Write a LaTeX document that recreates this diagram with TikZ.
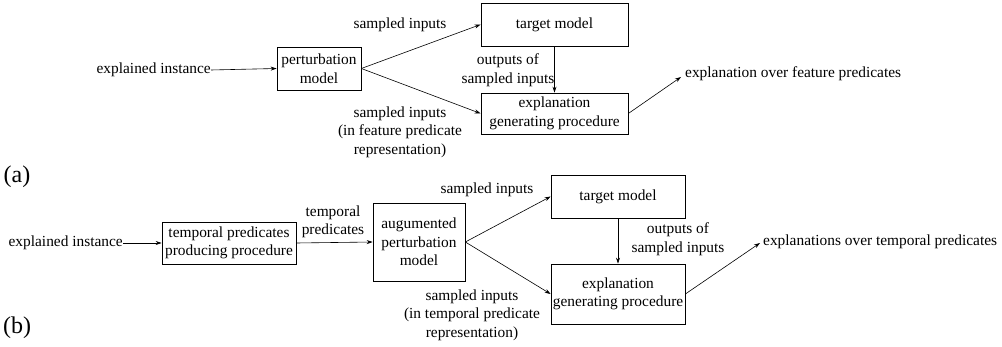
\documentclass[tikz,border=0pt]{standalone}
\usepackage{fontspec}
\setmainfont{Liberation Serif}
\usetikzlibrary{arrows.meta}
\newcommand\fs{\rmfamily\fontsize{15.4}{18.5}\selectfont}
\newcommand\fbig{\rmfamily\fontsize{24}{27}\selectfont}
\begin{document}
\begin{tikzpicture}[x=1pt,y=-1pt,
  box/.style={draw,line width=0.7pt,align=center,inner sep=0pt,font=\fs},
  lbl/.style={align=center,inner sep=0pt,font=\fs},
  arr/.style={-{Stealth[length=6pt,width=4pt]},line width=0.6pt}]
\useasboundingbox (0,0) rectangle (1002,347);
% ---------- (a) ----------
\node[lbl,anchor=east] (eia) at (211,70) {explained instance};
\node[box,minimum width=84pt,minimum height=43pt] (pma) at (319,68.5) {perturbation\\model};
\node[box,minimum width=147pt,minimum height=43pt] (tma) at (554.5,24.5) {target model};
\node[box,minimum width=147pt,minimum height=41pt] (ega) at (554.5,113.5) {explanation\\generating procedure};
\node[lbl,anchor=west] (outa) at (685,74) {explanation over feature predicates};
\coordinate (tipa) at (681,77);
\node[lbl] (sia) at (400,25) {sampled inputs};
\node[lbl] (sfa) at (400,132) {sampled inputs\\(in feature predicate\\representation)};
\node[lbl] (ooa) at (508,70) {outputs of\\sampled inputs};
\node[inner sep=0pt,font=\fbig] (la) at (17,177) {(a)};
\draw[arr] (eia.east) -- (pma.west);
\draw[arr] (pma.east) -- (tma.west);
\draw[arr] (pma.east) -- (ega.west);
\draw[arr] (tma.south) -- (ega.north);
\draw[arr] (ega.east) -- (tipa);
% ---------- (b) ----------
\node[lbl,anchor=east] (eib) at (123,243) {explained instance};
\node[box,minimum width=134pt,minimum height=42pt] (tpb) at (229,243) {temporal predicates\\producing procedure};
\node[lbl] (tplb) at (333,222) {temporal\\predicates};
\node[box,minimum width=92pt,minimum height=78pt] (apb) at (419,242) {augumented\\perturbation\\model};
\node[box,minimum width=134pt,minimum height=43pt] (tmb) at (618,196.5) {target model};
\node[box,minimum width=134pt,minimum height=60pt] (egb) at (618,294) {explanation\\generating procedure};
\node[lbl,anchor=west] (outb) at (763,242) {explanations over temporal predicates};
\coordinate (tipb) at (760,243);
\node[lbl] (sib) at (487,190) {sampled inputs};
\node[lbl] (stb) at (472,315) {sampled inputs\\(in temporal predicate\\representation)};
\node[lbl] (oob) at (678,239) {outputs of\\sampled inputs};
\node[inner sep=0pt,font=\fbig] (lb) at (17,328) {(b)};
\draw[arr] (eib.east) -- (tpb.west);
\draw[arr] (tpb.east) -- (apb.west);
\draw[arr] (apb.east) -- (tmb.west);
\draw[arr] (apb.east) -- (egb.west);
\draw[arr] (tmb.south) -- (egb.north);
\draw[arr] (egb.east) -- (tipb);
\end{tikzpicture}
\end{document}
